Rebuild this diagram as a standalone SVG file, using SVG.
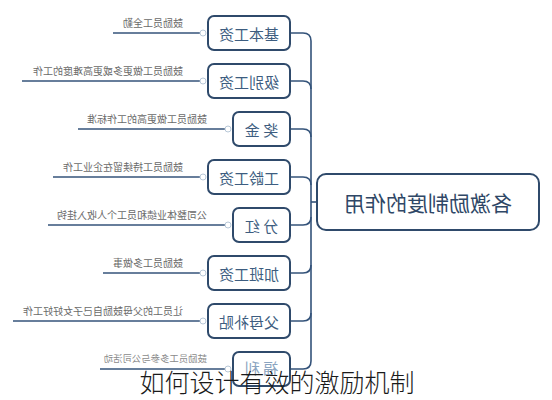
<svg xmlns="http://www.w3.org/2000/svg" width="552" height="400" viewBox="0 0 552 400">
<style>
.node{fill:#fff;stroke:#2f4a6b;stroke-width:2}
.lbl{font-family:"Noto Sans CJK SC","Noto Sans",sans-serif;font-size:15px;fill:#3d5d80;text-anchor:middle;dominant-baseline:central}
.desc{font-family:"Noto Sans CJK SC","Noto Sans",sans-serif;font-size:10px;fill:#6a6a6a}
.ln{fill:none;stroke:#34537a;stroke-width:1.6}
.dl{fill:none;stroke:#34537a;stroke-width:1.4}
.dot{fill:#fff;stroke:#b8c8d8;stroke-width:1}
.title{font-family:"Noto Sans CJK SC","Noto Sans",sans-serif;font-size:25px;fill:#1a1a1a;text-anchor:middle;font-weight:300}
</style>
<rect width="552" height="400" fill="#fff"/>
<g transform="translate(552,0) scale(-1,1)">
<g id="connectors">
<path class="ln" d="M235,202 H241"/>
<path class="ln" d="M262,33 H249 Q241,33 241,41 V361 Q241,369 249,369 H262"/>
<path class="ln" d="M241,89 Q241,81 249,81 H262"/>
<path class="ln" d="M241,137 Q241,129 249,129 H262"/>
<path class="ln" d="M241,185 Q241,177 249,177 H262"/>
<path class="ln" d="M241,217 Q241,225 249,225 H262"/>
<path class="ln" d="M241,265 Q241,273 249,273 H262"/>
<path class="ln" d="M241,313 Q241,321 249,321 H262"/>
<path class="dl" d="M352,33 H439"/>
<path class="dl" d="M352,81 H530"/>
<path class="dl" d="M327,129 H474"/>
<path class="dl" d="M352,177 H499"/>
<path class="dl" d="M327,225 H504"/>
<path class="dl" d="M352,273 H449"/>
<path class="dl" d="M352,321 H539"/>
<path class="dl" d="M327,369 H452"/>
<circle class="dot" cx="349" cy="33" r="3"/>
<circle class="dot" cx="349" cy="81" r="3"/>
<circle class="dot" cx="324" cy="129" r="3"/>
<circle class="dot" cx="349" cy="177" r="3"/>
<circle class="dot" cx="324" cy="225" r="3"/>
<circle class="dot" cx="349" cy="273" r="3"/>
<circle class="dot" cx="349" cy="321" r="3"/>
<circle class="dot" cx="324" cy="369" r="3"/>
</g>
<g id="center">
<rect class="node" x="13" y="174" width="222" height="56" rx="9" stroke-width="2.4"/>
<text class="lbl" x="124" y="202" style="font-size:21px;fill:#2f4766">各激励制度的作用</text>
</g>
<g id="n1">
<rect class="node" x="262" y="16" width="82" height="34" rx="6"/>
<text class="lbl" x="303" y="33">基本工资</text>
<text class="desc" x="369" y="27">鼓励员工全勤</text>
</g>
<g id="n2">
<rect class="node" x="262" y="64" width="82" height="34" rx="6"/>
<text class="lbl" x="303" y="81">级别工资</text>
<text class="desc" x="369" y="75">鼓励员工做更多或更高难度的工作</text>
</g>
<g id="n3">
<rect class="node" x="262" y="112" width="57" height="34" rx="6"/>
<text class="lbl" x="290.5" y="129">奖 金</text>
<text class="desc" x="345" y="123">鼓励员工做更高的工作标准</text>
</g>
<g id="n4">
<rect class="node" x="262" y="160" width="82" height="34" rx="6"/>
<text class="lbl" x="303" y="177">工龄工资</text>
<text class="desc" x="369" y="171">鼓励员工持续留在企业工作</text>
</g>
<g id="n5">
<rect class="node" x="262" y="208" width="57" height="34" rx="6"/>
<text class="lbl" x="290.5" y="225">分 红</text>
<text class="desc" x="345" y="219">公司整体业绩和员工个人收入挂钩</text>
</g>
<g id="n6">
<rect class="node" x="262" y="256" width="82" height="34" rx="6"/>
<text class="lbl" x="303" y="273">加班工资</text>
<text class="desc" x="369" y="267">鼓励员工多做事</text>
</g>
<g id="n7">
<rect class="node" x="262" y="304" width="82" height="34" rx="6"/>
<text class="lbl" x="303" y="321">父母补贴</text>
<text class="desc" x="369" y="315">让员工的父母鼓励自己子女好好工作</text>
</g>
<g id="n8">
<rect class="node" x="262" y="352" width="57" height="34" rx="6"/>
<text class="lbl" x="290.5" y="367" style="fill:#8aa4c0">福 利</text>
<text class="desc" x="345" y="362" style="font-size:9.4px;fill:#8a8a8a">鼓励员工多参与公司活动</text>
</g>
</g>
<text class="title" x="277" y="392">如何设计有效的激励机制</text>
</svg>
